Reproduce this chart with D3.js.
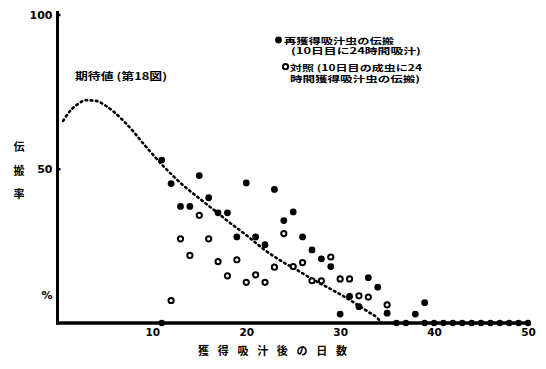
<!DOCTYPE html>
<html>
<head>
<meta charset="utf-8">
<script src="https://cdn.jsdelivr.net/npm/d3@7"></script>
<style>
  body { margin: 0; background: #fff; }
  svg { display: block; }
  .jp { font-family: "Noto Sans CJK JP", "Noto Sans CJK SC", sans-serif; font-weight: 700; fill: #000; }
  .num { font-family: "DejaVu Sans", sans-serif; font-weight: 700; fill: #000; }
</style>
</head>
<body>
<div id="chart"></div>
<script>
// expected curve (dotted line)
const expDays = [0.5, 1, 2, 3, 4, 5, 6, 7, 8, 9, 10, 11, 12, 13, 14, 15, 16, 17, 18, 19, 20,
  21, 22, 23, 24, 25, 26, 27, 28, 29, 30, 31, 32, 33, 34, 34.4];
const expVals = [65.5, 67.8, 70.8, 72.2, 72, 70.5, 68.2, 65.3, 62, 58.3, 54.8, 51.4, 48.3, 45.4, 42.8, 40.4, 38, 35.6, 33.1, 30.8, 28.5,
  26, 23.6, 21.5, 19.6, 17.9, 16.1, 14.3, 12.6, 11, 9.3, 7.5, 5.6, 3.6, 1.5, 0];

// filled circles
const filledDays = [11, 12, 13, 14, 15, 16, 17, 18, 19, 20, 21, 22, 23, 24, 25, 26, 27, 28, 29, 30, 31, 32, 33, 34, 35, 38, 39];
const filledVals = [52.8, 45.2, 37.8, 37.8, 47.8, 40.6, 35.7, 35.7, 27.9, 45.4, 27.9, 25.4, 43.3, 33.2, 36.0, 27.9, 23.7, 20.8, 18.3, 2.9, 8.6, 5.3, 14.7, 11.6, 3.2, 2.9, 6.6];

// open circles
const openDays = [12, 13, 14, 15, 16, 17, 18, 19, 20, 21, 22, 23, 24, 25, 26, 27, 28, 29, 30, 31, 32, 33, 35];
const openVals = [7.3, 27.3, 21.9, 34.9, 27.3, 19.9, 15.3, 20.5, 13.2, 15.6, 13.2, 18.1, 29.0, 18.3, 19.6, 13.7, 13.7, 21.4, 14.3, 14.3, 8.8, 8.4, 5.9];

// dots lying on the axis (0 %)
const zeroDays = [11, 36, 37, 39, 40, 41, 42, 43, 44, 45, 46, 47, 48, 49, 50];

const xTicks = [10, 20, 30, 40, 50];
const yTicks = [50, 100];

const width = 546, height = 369;

const x = d3.scaleLinear().domain([0, 50]).range([58.4, 528]);
const y = d3.scaleLinear().domain([0, 100]).range([323, 14.5]);

const svg = d3.select('#chart').append('svg')
  .attr('width', width)
  .attr('height', height);

// axes
const xAxis = svg.append('g')
  .attr('transform', 'translate(0,' + y(0) + ')')
  .call(d3.axisBottom(x).tickValues(xTicks).tickSize(0).tickPadding(6));
xAxis.select('.domain').remove();
xAxis.selectAll('text').attr('class', 'num').attr('font-size', 10.5).attr('font-family', null);

const yAxis = svg.append('g')
  .attr('transform', 'translate(57.5,0)')
  .call(d3.axisLeft(y).tickValues(yTicks).tickSizeInner(-3).tickSizeOuter(0).tickPadding(5));
yAxis.select('.domain').remove();
yAxis.selectAll('line').attr('stroke', '#000').attr('stroke-width', 2.5);
yAxis.selectAll('text').attr('class', 'num').attr('font-size', 11).attr('font-family', null);

svg.append('line')
  .attr('x1', 57.5).attr('x2', 57.5)
  .attr('y1', 11).attr('y2', y(0) + 1.5)
  .attr('stroke', '#000').attr('stroke-width', 3);
svg.append('line')
  .attr('x1', 56).attr('x2', x(50))
  .attr('y1', y(0)).attr('y2', y(0))
  .attr('stroke', '#000').attr('stroke-width', 3.5);

// expected curve
const line = d3.line()
  .x(function (d, i) { return x(expDays[i]); })
  .y(function (d) { return y(d); })
  .curve(d3.curveMonotoneX);

svg.append('path')
  .datum(expVals)
  .attr('d', line)
  .attr('fill', 'none')
  .attr('stroke', '#000')
  .attr('stroke-width', 2.6)
  .attr('stroke-linecap', 'round')
  .attr('stroke-dasharray', '1.6,3.6');

// points
svg.append('g').selectAll('circle')
  .data(zeroDays)
  .enter().append('circle')
  .attr('cx', function (d) { return x(d); })
  .attr('cy', y(0))
  .attr('r', 3.2)
  .attr('fill', '#000');

svg.append('g').selectAll('circle')
  .data(filledVals)
  .enter().append('circle')
  .attr('cx', function (d, i) { return x(filledDays[i]); })
  .attr('cy', function (d) { return y(d); })
  .attr('r', 3.4)
  .attr('fill', '#000');

svg.append('g').selectAll('circle')
  .data(openVals)
  .enter().append('circle')
  .attr('cx', function (d, i) { return x(openDays[i]); })
  .attr('cy', function (d) { return y(d); })
  .attr('r', 2.6)
  .attr('fill', '#fff')
  .attr('stroke', '#000')
  .attr('stroke-width', 2);

// texts
svg.append('text').attr('class', 'num')
  .attr('x', 52.5).attr('y', 295)
  .attr('dominant-baseline', 'central')
  .attr('text-anchor', 'end')
  .attr('font-size', 11)
  .text('%');

const yTitle = ['伝', '搬', '率'];
svg.append('g').selectAll('text')
  .data(yTitle)
  .enter().append('text')
  .attr('class', 'jp')
  .attr('x', 19)
  .attr('y', function (d, i) { return 146 + i * 23.5; })
  .attr('text-anchor', 'middle')
  .attr('dominant-baseline', 'central')
  .attr('font-size', 11)
  .text(function (d) { return d; });

svg.append('text').attr('class', 'jp')
  .attr('x', 198).attr('y', 350)
  .attr('dominant-baseline', 'central')
  .attr('font-size', 11)
  .attr('textLength', 149)
  .attr('lengthAdjust', 'spacing')
  .text('獲得吸汁後の日数');

svg.append('text').attr('class', 'jp')
  .attr('x', 75).attr('y', 75)
  .attr('dominant-baseline', 'central')
  .attr('font-size', 10)
  .attr('textLength', 92)
  .attr('lengthAdjust', 'spacingAndGlyphs')
  .text('期待値 (第18図)');

// legend
svg.append('circle').attr('cx', 278.5).attr('cy', 40).attr('r', 3.4).attr('fill', '#000');
svg.append('circle').attr('cx', 285.5).attr('cy', 66.7).attr('r', 2.6)
  .attr('fill', '#fff').attr('stroke', '#000').attr('stroke-width', 2);

const legendLines = [
  { t: '再獲得吸汁虫の伝搬', x: 284, y: 39.5, w: 110 },
  { t: '(10日目に24時間吸汁)', x: 291, y: 50, w: 130 },
  { t: '対照 (10日目の成虫に24', x: 290, y: 66.5, w: 132 },
  { t: '時間獲得吸汁虫の伝搬)', x: 290, y: 77.5, w: 130 }
];
svg.append('g').selectAll('text')
  .data(legendLines)
  .enter().append('text')
  .attr('class', 'jp')
  .attr('x', function (d) { return d.x; })
  .attr('y', function (d) { return d.y; })
  .attr('dominant-baseline', 'central')
  .attr('font-size', 8.5)
  .attr('textLength', function (d) { return d.w; })
  .attr('lengthAdjust', 'spacingAndGlyphs')
  .text(function (d) { return d.t; });
</script>
</body>
</html>
